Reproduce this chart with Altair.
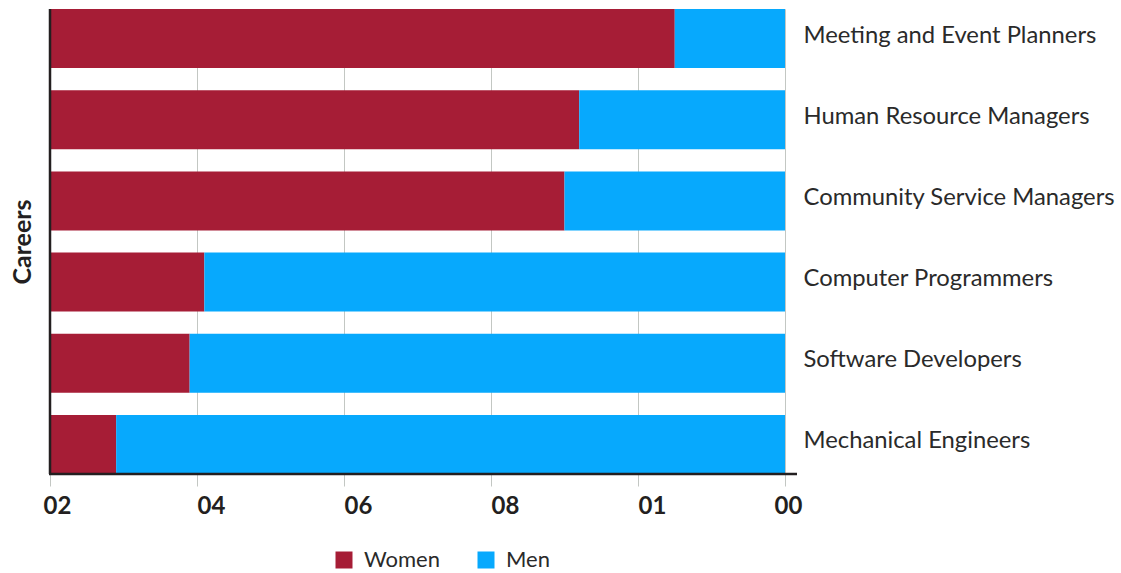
import altair as alt
import pandas as pd

careers = [
    "Meeting and Event Planners",
    "Human Resource Managers",
    "Community Service Managers",
    "Computer Programmers",
    "Software Developers",
    "Mechanical Engineers",
]
women = [85, 72, 70, 21, 19, 9]
men = [15, 28, 30, 79, 81, 91]

tick_values = [0, 20, 40, 60, 80, 100]
tick_labels = ["02", "04", "06", "08", "01", "00"]

series = ["Women", "Men"]
colors = ["#A61D36", "#07A9FD"]

rows = []
for c, w, m in zip(careers, women, men):
    rows.append({"Career": c, "Gender": "Women", "Share": w, "order": 0})
    rows.append({"Career": c, "Gender": "Men", "Share": m, "order": 1})
df = pd.DataFrame(rows)

label_expr = "".join(
    f"datum.value == {v} ? '{t}' : " for v, t in zip(tick_values, tick_labels)
) + "''"

W, H = 735, 465
FONT = "Lato"
DARK = "#231f20"
GRID = "#c3c7c3"

bars = alt.Chart(df).mark_bar().encode(
    x=alt.X(
        "Share:Q",
        stack="zero",
        scale=alt.Scale(domain=[0, 100], nice=False),
        axis=alt.Axis(
            values=tick_values,
            labelExpr=label_expr,
            title=None,
            domain=False,
            grid=True,
            gridColor=GRID,
            gridWidth=1,
            ticks=True,
            tickColor=GRID,
            tickSize=12,
            tickWidth=1,
            labelFont=FONT,
            labelFontSize=24,
            labelFontWeight="bold",
            labelColor=DARK,
            labelAlign="left",
            labelPadding=8,
            labelOffset={
                "condition": [
                    {"test": "datum.value == 0", "value": -7},
                    {"test": "datum.value == 100", "value": -11},
                ],
                "value": 0,
            },
        ),
    ),
    y=alt.Y(
        "Career:N",
        sort=careers,
        scale=alt.Scale(paddingInner=0.273, paddingOuter=0),
        axis=alt.Axis(
            orient="right",
            title="Careers",
            domain=False,
            ticks=False,
            grid=False,
            labelFont=FONT,
            labelFontSize=23.8,
            labelColor="#2a2a2a",
            labelPadding=18,
            labelOffset=-3,
            labelLimit=400,
            titleFont=FONT,
            titleFontSize=25,
            titleFontWeight="bold",
            titleColor=DARK,
            titleAngle=270,
            titleX=-28 - W,
            titleY=H / 2,
            titleAlign="center",
            titleBaseline="middle",
        ),
    ),
    color=alt.Color(
        "Gender:N",
        scale=alt.Scale(domain=series, range=colors),
        legend=alt.Legend(
            title=None,
            orient="none",
            direction="horizontal",
            legendX=283,
            legendY=540,
            symbolType="square",
            symbolSize=289,
            symbolStrokeWidth=0,
            symbolOpacity=1,
            labelFont=FONT,
            labelFontSize=22,
            labelColor="#2a2a2a",
            labelOffset=9,
            columnPadding=35,
            padding=0,
        ),
    ),
    order=alt.Order("order:Q"),
)

line_df = pd.DataFrame({"k": [0]})
left_line = alt.Chart(line_df).mark_rule(color=DARK, strokeWidth=2.5).encode(
    x=alt.value(0), y=alt.value(0), y2=alt.value(H)
)
bottom_line = alt.Chart(line_df).mark_rule(color=DARK, strokeWidth=2.5).encode(
    x=alt.value(-1), x2=alt.value(W + 12), y=alt.value(H)
)

chart = (
    alt.layer(bars, left_line, bottom_line)
    .properties(
        width=W,
        height=H,
        autosize=alt.AutoSizeParams(type="none"),
        padding={"left": 50, "top": 9, "right": 1121 - 50 - W, "bottom": 573 - 9 - H},
    )
    .configure_view(stroke=None)
    .configure(background="white")
)

chart.save("out.html", embed_options={"renderer": "svg", "actions": False})
